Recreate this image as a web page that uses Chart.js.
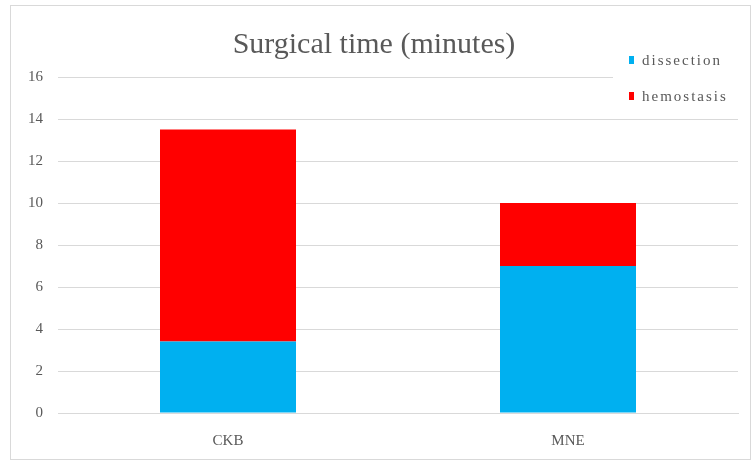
<!DOCTYPE html>
<html>
<head>
<meta charset="utf-8">
<script src="https://cdn.jsdelivr.net/npm/chart.js@4/dist/chart.umd.min.js"></script>
<style>
  html, body { margin: 0; padding: 0; background: #fff; }
  #wrap { position: relative; width: 752px; height: 461px; }
</style>
</head>
<body>
<div id="wrap"><canvas id="grafica"></canvas></div>
<script>
const categorias = ["CKB", "MNE"];
const disecciones = [3.4, 7.0];
const hemostasis = [10.1, 3.0];
const ticksY = [0, 2, 4, 6, 8, 10, 12, 14, 16];

const fuente = "'Liberation Serif', 'DejaVu Serif', serif";
const gris = '#595959';

// borde del grafico y leyenda a mano (a la derecha, encima de la rejilla)
const marcoYLeyenda = {
    id: 'marcoYLeyenda',
    afterDatasetsDraw(chart) {
        const ctx = chart.ctx;
        ctx.save();
        ctx.fillStyle = '#fff';
        ctx.fillRect(613, 45, 132, 60);
        const items = [
            { texto: chart.data.datasets[0].label, color: chart.data.datasets[0].backgroundColor, y: 61 },
            { texto: chart.data.datasets[1].label, color: chart.data.datasets[1].backgroundColor, y: 97 }
        ];
        ctx.font = "15px " + fuente;
        ctx.letterSpacing = '2px';
        ctx.textBaseline = 'middle';
        items.forEach(it => {
            ctx.fillStyle = it.color;
            ctx.fillRect(629, it.y - 5, 5, 8);
            ctx.fillStyle = gris;
            ctx.fillText(it.texto, 642, it.y);
        });
        ctx.strokeStyle = '#d9d9d9';
        ctx.lineWidth = 1;
        ctx.strokeRect(10.5, 5.5, 740, 454);
        ctx.restore();
    }
};

const $grafica = document.querySelector("#grafica");

new Chart($grafica, {
    type: 'bar',
    data: {
        labels: categorias,
        datasets: [
            { label: "dissection", data: disecciones, backgroundColor: '#00B0F0', borderWidth: 0 },
            { label: "hemostasis", data: hemostasis, backgroundColor: '#FF0000', borderWidth: 0 }
        ]
    },
    options: {
        responsive: true,
        maintainAspectRatio: false,
        animation: false,
        categoryPercentage: 0.8,
        barPercentage: 0.5,
        layout: { padding: { left: 10, right: 14, top: 5, bottom: 0 } },
        plugins: {
            legend: { display: false },
            tooltip: { enabled: false },
            title: {
                display: true,
                text: "Surgical time (minutes)",
                color: gris,
                font: { family: fuente, size: 30, weight: 'normal', lineHeight: 1.2 },
                padding: { top: 22, bottom: 14 }
            }
        },
        scales: {
            x: {
                stacked: true,
                grid: { display: false, drawTicks: false },
                border: { color: '#d9d9d9' },
                afterFit: (axis) => { axis.height = 48; },
                ticks: { color: gris, font: { family: fuente, size: 15 }, padding: 19 }
            },
            y: {
                stacked: true,
                min: 0,
                max: 16,
                afterBuildTicks: (axis) => { axis.ticks = ticksY.map(v => ({ value: v })); },
                afterFit: (axis) => { axis.width = 48; },
                grid: { color: '#d9d9d9', drawTicks: false },
                border: { display: false },
                ticks: { color: gris, font: { family: fuente, size: 15 }, padding: 15 }
            }
        }
    },
    plugins: [marcoYLeyenda]
});
</script>
</body>
</html>
